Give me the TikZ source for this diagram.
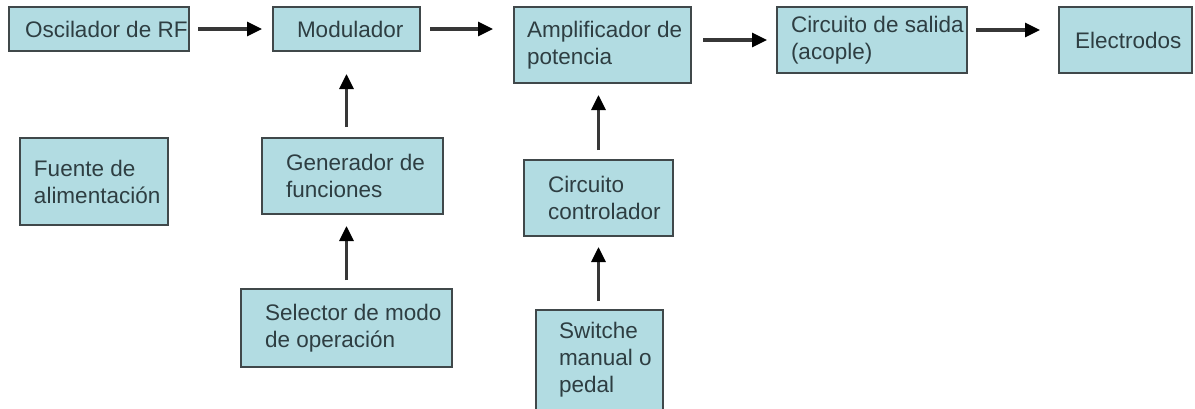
\documentclass[tikz,border=0pt]{standalone}
\usepackage{fontspec}
\setmainfont{Liberation Sans}
\usetikzlibrary{arrows.meta}
\definecolor{boxfill}{RGB}{178,220,226}
\definecolor{boxline}{RGB}{64,72,74}
\definecolor{boxtext}{RGB}{46,62,66}
\definecolor{arrowgray}{RGB}{55,55,55}

\tikzset{
  blk/.style={rectangle, draw=boxline, line width=1.8pt, fill=boxfill, inner sep=0pt, outer sep=0pt},
  txt/.style={anchor=west, align=left, inner sep=0pt, outer sep=0pt, text=boxtext, font=\fontsize{22.5}{27}\selectfont},
  sig/.style={arrowgray, line width=3.2pt, -{Triangle[length=15pt,width=14pt,color=black]}},
}

\begin{document}
\begin{tikzpicture}[x=1pt,y=-1pt]
    \useasboundingbox[fill=white] (0,0) rectangle (1195,408);

    % Main chain
    \node[blk, minimum width=180pt, minimum height=44pt, label={[txt,xshift=16pt]west:Oscilador de RF}] (osc) at (99,29) {};
    \node[blk, minimum width=147pt, minimum height=44pt, label={[txt,xshift=24pt]west:Modulador}] (mod) at (346.5,29) {};
    \node[blk, minimum width=177pt, minimum height=76pt, label={[txt,xshift=13pt]west:Amplificador de\\potencia}] (amp) at (602.5,45) {};
    \node[blk, minimum width=190pt, minimum height=66pt, label={[txt,xshift=14pt]west:Circuito de salida\\(acople)}] (salida) at (872,40) {};
    \node[blk, minimum width=133pt, minimum height=66pt, label={[txt,xshift=16pt]west:Electrodos}] (elec) at (1125.5,40) {};

    % Power supply
    \node[blk, minimum width=148pt, minimum height=87pt, label={[txt,xshift=14pt]west:Fuente de\\alimentación}] (fuente) at (94,181.5) {};

    % Modulator branch
    \node[blk, minimum width=181pt, minimum height=76pt, label={[txt,xshift=24pt]west:Generador de\\funciones}] (gen) at (352.5,176) {};
    \node[blk, minimum width=211pt, minimum height=78pt, label={[txt,xshift=24pt]west:Selector de modo\\de operación}] (sel) at (346.5,328) {};

    % Amplifier branch
    \node[blk, minimum width=149pt, minimum height=76pt, label={[txt,xshift=24pt]west:Circuito\\controlador}] (ctrl) at (598.5,198) {};
    \node[blk, minimum width=127pt, minimum height=100pt, label={[txt,xshift=23pt]west:Switche\\manual o\\pedal}] (sw) at (599.5,360) {};

    % Horizontal arrows
    \draw[sig, shorten <=9pt, shorten >=11pt] (osc.east) -- (mod.west);
    \draw[sig, shorten <=10pt, shorten >=21pt] (mod.east) -- (mod.east -| amp.west);
    \draw[sig, shorten <=12pt, shorten >=10pt] (salida.west -| amp.east) -- (salida.west);
    \draw[sig, shorten <=9pt, shorten >=19pt] ([yshift=10pt]salida.east) -- ([yshift=10pt]salida.east -| elec.west);

    % Vertical arrows
    \draw[sig, shorten <=11pt, shorten >=23pt] (gen.north -| mod.south) -- (mod.south);
    \draw[sig, shorten <=9pt, shorten >=12pt] (sel.north) -- (sel.north |- gen.south);
    \draw[sig, shorten <=10pt, shorten >=12pt] (ctrl.north) -- (ctrl.north |- amp.south);
    \draw[sig, shorten <=9pt, shorten >=11pt] (sw.north -| ctrl.south) -- (ctrl.south);
\end{tikzpicture}
\end{document}
